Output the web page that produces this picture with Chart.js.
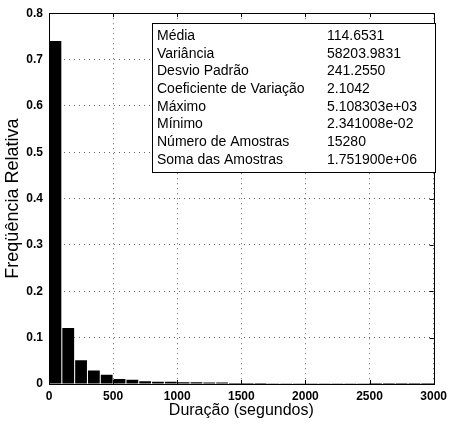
<!DOCTYPE html>
<html>
<head>
<meta charset="utf-8">
<script src="https://cdn.jsdelivr.net/npm/chart.js@4.4.1/dist/chart.umd.min.js"></script>
<style>
    html, body { margin: 0; padding: 0; background: #fff; }
    #wrap { width: 452px; height: 428px; position: relative; }
</style>
</head>
<body>
<div id="wrap"><canvas id="histCanvas" width="452" height="428"></canvas></div>
<script>
// bin centres (seconds), bins are 100 s wide
const binCenters = [50, 150, 250, 350, 450, 550, 650, 750, 850, 950,
    1050, 1150, 1250, 1350, 1450, 1550, 1650, 1750, 1850, 1950,
    2050, 2150, 2250, 2350, 2450, 2550, 2650, 2750, 2850, 2950];

// relative frequency of each bin
const relFreq = [0.740, 0.121, 0.051, 0.029, 0.020, 0.011, 0.009, 0.006, 0.005, 0.005,
    0.004, 0.004, 0.003, 0.003, 0.002, 0.002, 0.002, 0.0015, 0.0015, 0.0015,
    0.0008, 0.0005, 0.0004, 0.0003, 0.0003, 0.0002, 0.0002, 0.0001, 0.0001, 0.0001];

const xTicks = [0, 500, 1000, 1500, 2000, 2500, 3000];
const yTicks = [0, 0.1, 0.2, 0.3, 0.4, 0.5, 0.6, 0.7, 0.8];

const statLabels = ["Média", "Variância", "Desvio Padrão", "Coeficiente de Variação",
    "Máximo", "Mínimo", "Número de Amostras", "Soma das Amostras"];
const statValues = ["114.6531", "58203.9831", "241.2550", "2.1042",
    "5.108303e+03", "2.341008e-02", "15280", "1.751900e+06"];

const fontFamily = '"Liberation Sans", Arial, Helvetica, sans-serif';

const frameAndStats = {
    id: "frameAndStats",
    afterDraw(chart) {
        const c = chart.ctx;
        const area = chart.chartArea;
        const xs = chart.scales.x;
        const ys = chart.scales.y;

        c.save();
        c.strokeStyle = "#000";
        c.lineWidth = 1;

        // inner tick marks on all four sides
        c.beginPath();
        xTicks.forEach((v) => {
            const px = Math.round(xs.getPixelForValue(v)) + 0.5;
            c.moveTo(px, area.bottom);
            c.lineTo(px, area.bottom - 4);
            c.moveTo(px, area.top);
            c.lineTo(px, area.top + 4);
        });
        yTicks.forEach((v) => {
            const py = Math.round(ys.getPixelForValue(v)) + 0.5;
            c.moveTo(area.left, py);
            c.lineTo(area.left + 4, py);
            c.moveTo(area.right, py);
            c.lineTo(area.right - 4, py);
        });
        c.stroke();

        // plot frame
        c.strokeRect(Math.round(area.left) + 0.5, Math.round(area.top) + 0.5,
            Math.round(area.right - area.left), Math.round(area.bottom - area.top));

        // statistics box
        const bx = 152.5, by = 23.5, bw = 283, bh = 149;
        c.fillStyle = "#fff";
        c.fillRect(bx, by, bw, bh);
        c.strokeRect(bx, by, bw, bh);

        c.fillStyle = "#000";
        c.font = "14px " + fontFamily;
        c.textBaseline = "middle";
        c.textAlign = "left";
        statLabels.forEach((label, i) => {
            const y = 36 + i * 17.7;
            c.fillText(label, 157, y);
            c.fillText(statValues[i], 327, y);
        });

        c.restore();
    }
};

const chart = new Chart(document.getElementById("histCanvas"), {
    type: "bar",
    data: {
        labels: binCenters,
        datasets: [
            {
                data: binCenters.map((x, i) => ({ x: x, y: relFreq[i] })),
                backgroundColor: "#000",
                borderWidth: 0,
                barPercentage: 0.92,
                categoryPercentage: 1.0
            }
        ]
    },
    options: {
        responsive: false,
        animation: false,
        devicePixelRatio: 1,
        layout: {
            padding: { top: 11, right: 15, left: 0, bottom: 0 }
        },
        plugins: {
            legend: { display: false },
            tooltip: { enabled: false }
        },
        scales: {
            x: {
                type: "linear",
                min: 0,
                max: 3000,
                offset: false,
                afterBuildTicks: (scale) => {
                    scale.ticks = xTicks.map(v => ({ value: v }));
                },
                afterFit: (scale) => {
                    scale.height = 44;
                },
                ticks: {
                    color: "#000",
                    padding: 5,
                    maxRotation: 0,
                    font: { family: fontFamily, size: 12, weight: "bold" },
                    callback: (v) => String(v)
                },
                grid: {
                    color: "rgba(0,0,0,0.6)",
                    drawTicks: false,
                    offset: false,
                    lineWidth: 1
                },
                border: { display: false, dash: [1, 4] },
                title: {
                    display: true,
                    text: "Duração (segundos)",
                    color: "#000",
                    padding: { top: 0, bottom: 8 },
                    font: { family: fontFamily, size: 16 }
                }
            },
            y: {
                type: "linear",
                min: 0,
                max: 0.8,
                afterBuildTicks: (scale) => {
                    scale.ticks = yTicks.map(v => ({ value: v }));
                },
                afterFit: (scale) => {
                    scale.width = 49;
                },
                ticks: {
                    color: "#000",
                    padding: 6,
                    font: { family: fontFamily, size: 12, weight: "bold" },
                    callback: (v) => String(Math.round(v * 10) / 10)
                },
                grid: {
                    color: "rgba(0,0,0,0.6)",
                    drawTicks: false,
                    lineWidth: 1
                },
                border: { display: false, dash: [1, 4] },
                title: {
                    display: true,
                    text: "Freqüência Relativa",
                    color: "#000",
                    padding: { top: 2, bottom: 0 },
                    font: { family: fontFamily, size: 18 }
                }
            }
        }
    },
    plugins: [frameAndStats]
});
</script>
</body>
</html>
